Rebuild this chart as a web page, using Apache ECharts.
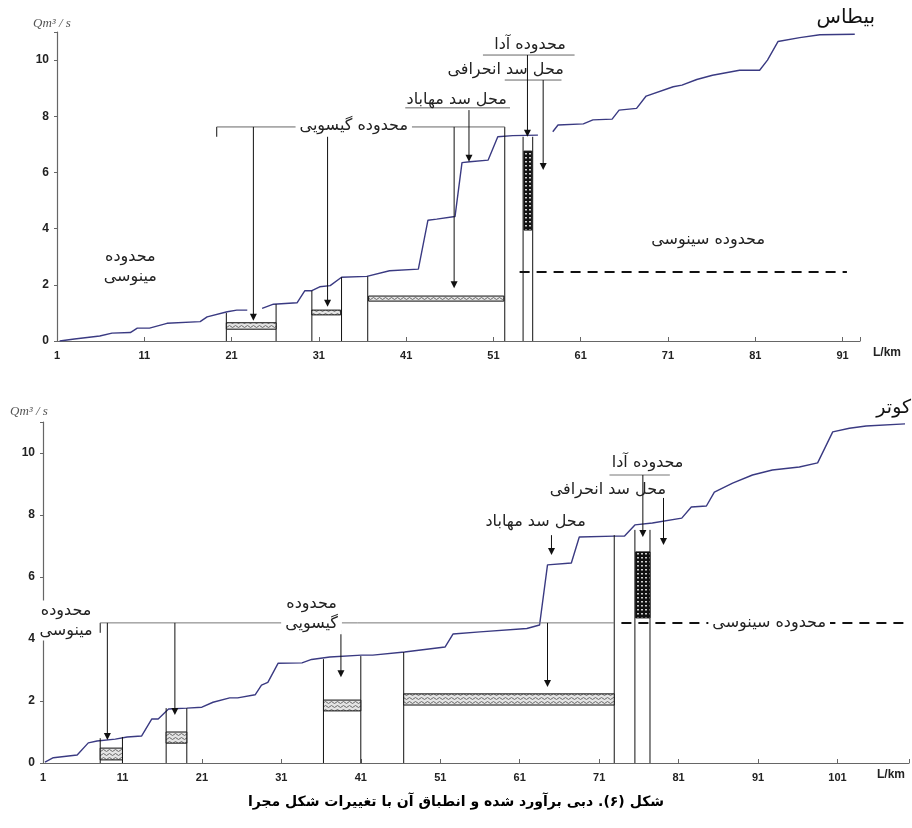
<!DOCTYPE html>
<html>
<head>
<meta charset="utf-8">
<script src="https://cdn.jsdelivr.net/npm/echarts@6/dist/echarts.min.js"></script>
<style>html,body{margin:0;padding:0;background:#fff}#c{width:912px;height:828px}</style>
</head>
<body>
<div id="c"></div>
<script>
// ---------- data: upper chart (بیطاس) ----------
const topSeg1 = [[1.3,0],[3,0.07],[5.9,0.18],[7.3,0.28],[9.4,0.3],[10.2,0.46],[11.6,0.46],[13.6,0.63],[17.4,0.69],[18.2,0.86],[20.5,1.04],[21.6,1.1],[22.8,1.1]];
const topSeg2 = [[24.5,1.16],[25.8,1.31],[28.5,1.36],[29.4,1.79],[30.2,1.79],[31.1,1.93],[32.3,1.97],[33.6,2.27],[36.5,2.3],[39.1,2.5],[42.4,2.56],[43.5,4.3],[44.5,4.34],[46.6,4.43],[47.4,6.35],[48.3,6.38],[50.4,6.44],[51.5,7.27],[53.2,7.31],[56.1,7.33]];
const topSeg3 = [[57.8,7.45],[58.4,7.69],[61.3,7.73],[62.4,7.87],[64.6,7.9],[65.4,8.22],[67.4,8.28],[68.5,8.72],[71.6,9.05],[72.6,9.11],[74.3,9.31],[76.1,9.46],[79.2,9.64],[81.5,9.64],[82.4,10.0],[83.6,10.66],[86.1,10.8],[88.4,10.9],[92.4,10.92]];
// vertical lines [km, yFrom, yTo]
const topVLines = [[20.4,0,1.0],[26.1,0,1.31],[30.2,0,1.79],[33.6,0,2.27],[36.6,0,2.3],[52.3,0,7.62],[54.4,0,7.27],[55.5,0,7.27],[19.3,7.27,7.62]];
// hatched boxes [kmFrom, kmTo, yLow, yHigh]
const topBoxes = [[20.4,26.1,0.42,0.65],[30.2,33.5,0.93,1.1],[36.7,52.2,1.42,1.6]];
const topDarkBoxes = [[54.5,55.4,3.95,6.76]];
// arrows [km, yFrom, yTo]
const topArrows = [[23.5,7.62,0.72],[32,7.27,1.22],[46.5,7.62,1.88],[48.2,8.22,6.38],[54.9,10.18,7.27],[56.7,9.29,6.09]];
// horizontal lines [kmFrom, kmTo, y]
const topHLines = [[19.3,52.3,7.62],[40.9,52.9,8.3],[49.8,60.3,10.18],[52.3,58.8,9.29]];
const topDashed = [[54,91.5,2.46]];
// labels [km, y, text, whiteBackground]
const topLabels = [[9.4,2.65,'محدوده\nمینوسی',0],[35,7.65,'محدوده گیسویی',1],[46.8,8.6,'محل سد مهاباد',0],[52.4,9.66,'محل سد انحرافی',0],[55.2,10.55,'محدوده آدا',0],[75.6,3.6,'محدوده سینوسی',0]];

// ---------- data: lower chart (کوتر) ----------
const botCurve = [[1.25,0.03],[2.3,0.17],[5.3,0.26],[6.7,0.65],[7.8,0.71],[10.1,0.77],[11.6,0.84],[13.4,0.87],[14.7,1.42],[15.5,1.42],[16.8,1.74],[19.1,1.77],[21,1.8],[22.4,1.96],[24.5,2.1],[25.5,2.1],[27.7,2.2],[28.5,2.51],[29.3,2.6],[30.6,3.22],[33.6,3.23],[34.8,3.34],[37.1,3.42],[41.1,3.48],[42.5,3.48],[46.5,3.58],[51.6,3.74],[52.6,4.16],[56,4.23],[61.9,4.34],[63.5,4.45],[64.5,6.39],[67.5,6.45],[68.5,7.29],[72.9,7.32],[74.2,7.32],[75.5,7.68],[77.7,7.74],[81.4,7.9],[82.6,8.26],[84.5,8.29],[85.5,8.74],[87.8,9.03],[90.3,9.29],[92.8,9.45],[96.2,9.55],[98.5,9.68],[100.4,10.68],[102.5,10.8],[104.6,10.87],[109.5,10.94]];
const botVLines = [[8.2,0,0.8],[11,0,0.84],[16.5,0,1.77],[19.1,0,1.77],[36.3,0,3.35],[41,0,3.45],[46.4,0,3.58],[72.9,0,7.35],[75.5,0,7.52],[77.4,0,7.52],[8.2,4.2,4.52]];
const botBoxes = [[8.2,11,0.1,0.48],[16.5,19.1,0.64,1.0],[36.3,41,1.68,2.03],[46.4,72.9,1.87,2.23]];
const botDarkBoxes = [[75.6,77.4,4.68,6.81]];
const botArrows = [[9.1,4.52,0.74],[17.6,4.52,1.55],[38.5,4.29,2.77],[64.5,4.52,2.45],[65,7.35,6.71],[76.5,9.29,7.29],[79.1,8.55,7.03]];
const botHLines = [[8.2,72.9,4.52],[72.3,79.9,9.29]];
const botDashed = [[73.8,110,4.52]];
const botLabels = [[3.9,4.6,'محدوده\nمینوسی',1],[34.8,4.8,'محدوده\nگیسویی',1],[63,7.77,'محل سد مهاباد',0],[72.1,8.8,'محل سد انحرافی',0],[77.1,9.68,'محدوده آدا',0],[92.4,4.52,'محدوده سینوسی',1]];

// ticks
const xTicksTop = [1,11,21,31,41,51,61,71,81,91];
const xTicksBot = [1,11,21,31,41,51,61,71,81,91,101];
const yTicks = [0,2,4,6,8,10];

// ---------- patterns ----------
function lightPattern(){
  const c=document.createElement('canvas'); c.width=6; c.height=4;
  const g=c.getContext('2d'); g.fillStyle='#e4e4e4'; g.fillRect(0,0,6,4);
  g.strokeStyle='#6a6a6a'; g.lineWidth=1; g.beginPath();
  g.moveTo(0,2.5); g.quadraticCurveTo(1.5,0.5,3,2.5); g.quadraticCurveTo(4.5,4.5,6,2.5); g.stroke();
  return {image:c, repeat:'repeat'};
}
function darkPattern(){
  const c=document.createElement('canvas'); c.width=4; c.height=4;
  const g=c.getContext('2d'); g.fillStyle='#111'; g.fillRect(0,0,4,4);
  g.fillStyle='#cfcfcf'; g.fillRect(1,1,2,1.5);
  return {image:c, repeat:'repeat'};
}
const LP = lightPattern(), DP = darkPattern();
const PF = '"DejaVu Sans", sans-serif';

function boxSeries(data, gi, pattern){
  return {type:'custom', xAxisIndex:gi, yAxisIndex:gi, z:5, data:data, encode:{x:[0,1],y:[2,3]},
    renderItem:function(p,api){
      const a=api.coord([api.value(0),api.value(3)]), b=api.coord([api.value(1),api.value(2)]);
      return {type:'rect', shape:{x:a[0],y:a[1],width:b[0]-a[0],height:b[1]-a[1]}, style:{fill:pattern, stroke:'#111', lineWidth:1}};
    }};
}
function vSeries(data, gi){
  return {type:'custom', xAxisIndex:gi, yAxisIndex:gi, z:4, data:data, encode:{x:0,y:[1,2]},
    renderItem:function(p,api){
      const a=api.coord([api.value(0),api.value(1)]), b=api.coord([api.value(0),api.value(2)]);
      return {type:'line', shape:{x1:a[0],y1:a[1],x2:b[0],y2:b[1]}, style:{stroke:'#111', lineWidth:1}};
    }};
}
function hSeries(data, gi, color, dash, w){
  return {type:'custom', xAxisIndex:gi, yAxisIndex:gi, z:4, data:data, encode:{x:[0,1],y:2},
    renderItem:function(p,api){
      const a=api.coord([api.value(0),api.value(2)]), b=api.coord([api.value(1),api.value(2)]);
      return {type:'line', shape:{x1:a[0],y1:a[1],x2:b[0],y2:b[1]}, style:{stroke:color, lineWidth:w, lineDash:dash}};
    }};
}
function arrowSeries(data, gi){
  return {type:'custom', xAxisIndex:gi, yAxisIndex:gi, z:6, data:data, encode:{x:0,y:[1,2]},
    renderItem:function(p,api){
      const a=api.coord([api.value(0),api.value(1)]), b=api.coord([api.value(0),api.value(2)]);
      return {type:'group', children:[
        {type:'line', shape:{x1:a[0],y1:a[1],x2:b[0],y2:b[1]-6}, style:{stroke:'#111', lineWidth:1}},
        {type:'polygon', shape:{points:[[b[0]-3.5,b[1]-7],[b[0]+3.5,b[1]-7],[b[0],b[1]]]}, style:{fill:'#111'}}
      ]};
    }};
}
function labelSeries(src, gi){
  return {type:'custom', xAxisIndex:gi, yAxisIndex:gi, z:8, data:src.map(d=>[d[0],d[1]]), encode:{x:0,y:1},
    renderItem:function(p,api){
      const a=api.coord([api.value(0),api.value(1)]); const s=src[p.dataIndex];
      return {type:'text', style:{text:s[2], x:a[0], y:a[1], align:'center', verticalAlign:'middle',
        font:'16px '+PF, fill:'#222', lineHeight:20, backgroundColor: s[3]?'#fff':'transparent', padding:[0,4]}};
    }};
}
function lineSeries(data, gi){
  return {type:'line', xAxisIndex:gi, yAxisIndex:gi, data:data, showSymbol:false, z:3, silent:true,
    lineStyle:{color:'#3a3a82', width:1.4}};
}
function xAxis(gi, max, ticks){
  return {type:'value', gridIndex:gi, min:1, max:max, interval:10,
    axisLine:{lineStyle:{color:'#666', width:1.2}}, axisTick:{inside:true, length:4, lineStyle:{color:'#666'}},
    splitLine:{show:false},
    axisLabel:{margin:9, color:'#222', fontWeight:'bold', fontSize:11, fontFamily:'Liberation Sans, Arial',
      formatter:v=> ticks.indexOf(v)>=0 ? String(v) : ''}};
}
function yAxis(gi){
  return {type:'value', gridIndex:gi, min:0, max:11, interval:2,
    axisLine:{show:true, lineStyle:{color:'#666', width:1.2}}, axisTick:{show:true, length:3, lineStyle:{color:'#666'}},
    splitLine:{show:false},
    axisLabel:{margin:8, color:'#222', fontWeight:'bold', fontSize:12, fontFamily:'Liberation Sans, Arial',
      formatter:v=> yTicks.indexOf(v)>=0 ? String(v) : ''}};
}

const chart = echarts.init(document.getElementById('c'), null, {renderer:'canvas'});
chart.setOption({
  animation:false,
  backgroundColor:'#fff',
  grid:[
    {left:57, top:32, width:803, height:309},
    {left:43, top:422, width:867, height:341}
  ],
  xAxis:[xAxis(0,93,xTicksTop), xAxis(1,110,xTicksBot)],
  yAxis:[yAxis(0), yAxis(1)],
  graphic:[
    {type:'text', left:33, top:17, style:{text:'Qm³ / s', font:'italic 13px "Liberation Serif", serif', fill:'#555'}},
    {type:'text', left:10, top:405, style:{text:'Qm³ / s', font:'italic 13px "Liberation Serif", serif', fill:'#555'}},
    {type:'text', left:873, top:347, style:{text:'L/km', font:'bold 12px "Liberation Sans", Arial', fill:'#222'}},
    {type:'text', left:877, top:769, style:{text:'L/km', font:'bold 12px "Liberation Sans", Arial', fill:'#222'}},
    {type:'text', right:37, top:8, style:{text:'بیطاس', font:'20px '+PF, fill:'#111'}},
    {type:'text', right:1, top:399, style:{text:'کوتر', font:'19px '+PF, fill:'#111'}},
    {type:'text', left:'center', top:795, style:{text:'شکل (۶). دبی برآورد شده و انطباق آن با تغییرات شکل مجرا', font:'bold 14px '+PF, fill:'#000'}}
  ],
  series:[
    lineSeries(topSeg1,0), lineSeries(topSeg2,0), lineSeries(topSeg3,0),
    vSeries(topVLines,0), boxSeries(topBoxes,0,LP), boxSeries(topDarkBoxes,0,DP),
    hSeries(topHLines,0,'#666',null,1), hSeries(topDashed,0,'#111',[10,7],2),
    arrowSeries(topArrows,0), labelSeries(topLabels,0),
    lineSeries(botCurve,1),
    vSeries(botVLines,1), boxSeries(botBoxes,1,LP), boxSeries(botDarkBoxes,1,DP),
    hSeries(botHLines,1,'#777',null,1), hSeries(botDashed,1,'#111',[10,7],2),
    arrowSeries(botArrows,1), labelSeries(botLabels,1)
  ]
});
</script>
</body>
</html>
